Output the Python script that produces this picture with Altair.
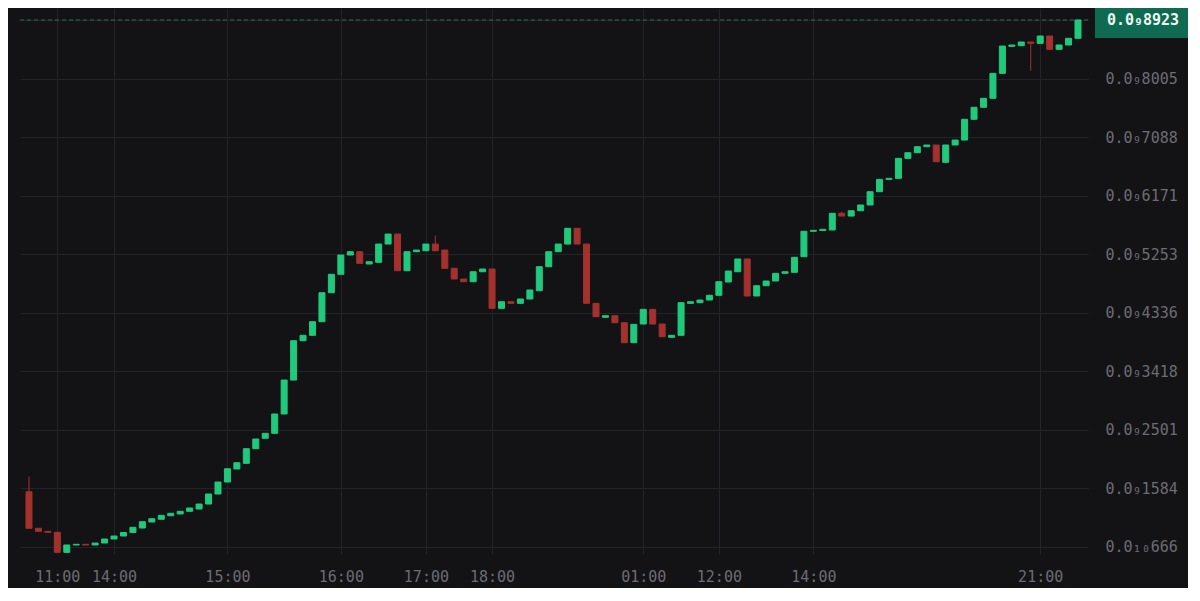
import altair as alt
import pandas as pd

# ---- data (prices in units of 1e-13) ----
opens = [1531, 958, 910, 895, 581, 696, 707, 696, 727, 790,
         837, 892, 962, 1056, 1099, 1155, 1182, 1224, 1260, 1338,
         1495, 1683, 1887, 1976, 2205, 2368, 2446, 2749, 3281, 3897,
         3982, 4195, 4649, 4938, 5240, 5292, 5099, 5126, 5412, 5569,
         4994, 5292, 5307, 5412, 5318, 5032, 4864, 4822, 4978, 5021,
         4405, 4508, 4483, 4551, 4681, 5057, 5292, 5412, 5659, 5412,
         4483, 4264, 4289, 4179, 3866, 4159, 4389, 4159, 3951, 3982,
         4483, 4493, 4535, 4609, 4817, 4978, 5178, 4598, 4759, 4833,
         4953, 4969, 5214, 5612, 5624, 5632, 5894, 5851, 5934, 6024,
         6232, 6426, 6442, 6755, 6843, 6937, 6964, 6693, 6964, 7042,
         7367, 7555, 7696, 8087, 8510, 8520, 8578, 8557, 8672, 8463,
         8531, 8636]
closes = [958, 910, 895, 581, 696, 707, 696, 727, 790, 837,
          892, 973, 1061, 1108, 1161, 1193, 1224, 1276, 1338, 1495,
          1683, 1891, 1985, 2205, 2357, 2446, 2749, 3281, 3897, 3982,
          4195, 4649, 4938, 5240, 5292, 5110, 5135, 5412, 5569, 4994,
          5292, 5318, 5412, 5307, 5032, 4864, 4822, 4978, 5021, 4405,
          4508, 4483, 4551, 4692, 5057, 5292, 5412, 5659, 5412, 4483,
          4273, 4289, 4179, 3866, 4154, 4389, 4159, 3960, 3982, 4493,
          4508, 4535, 4609, 4822, 4989, 5178, 4598, 4759, 4833, 4953,
          4978, 5204, 5612, 5627, 5643, 5894, 5851, 5934, 6024, 6232,
          6426, 6442, 6755, 6843, 6937, 6964, 6702, 6964, 7042, 7367,
          7555, 7696, 8087, 8515, 8531, 8578, 8557, 8672, 8463, 8531,
          8636, 8923]
highs = [1769, 958, 910, 895, 696, 707, 707, 727, 790, 837,
         892, 973, 1061, 1108, 1161, 1193, 1224, 1276, 1338, 1495,
         1683, 1891, 1985, 2205, 2357, 2446, 2749, 3281, 3897, 3982,
         4195, 4649, 4938, 5240, 5292, 5292, 5135, 5412, 5569, 5569,
         5292, 5318, 5412, 5543, 5318, 5032, 4864, 4978, 5021, 5021,
         4508, 4508, 4551, 4692, 5057, 5292, 5412, 5659, 5659, 5412,
         4483, 4289, 4289, 4179, 4154, 4389, 4389, 4159, 3982, 4493,
         4508, 4535, 4609, 4822, 4989, 5178, 5178, 4759, 4833, 4953,
         4978, 5204, 5612, 5627, 5643, 5894, 5919, 5934, 6024, 6232,
         6426, 6442, 6755, 6843, 6937, 6964, 6964, 6964, 7042, 7367,
         7555, 7696, 8087, 8515, 8531, 8578, 8578, 8672, 8672, 8531,
         8636, 8923]
lows = [958, 910, 895, 581, 570, 696, 696, 696, 727, 790,
        837, 892, 962, 1056, 1099, 1155, 1182, 1224, 1260, 1338,
        1495, 1683, 1887, 1976, 2205, 2368, 2446, 2749, 3281, 3897,
        3982, 4195, 4649, 4938, 5240, 5110, 5099, 5126, 5412, 4994,
        4994, 5292, 5307, 5307, 5032, 4864, 4822, 4822, 4978, 4405,
        4405, 4483, 4483, 4551, 4681, 5057, 5292, 5412, 5412, 4483,
        4273, 4264, 4179, 3866, 3866, 4159, 4159, 3960, 3951, 3982,
        4483, 4493, 4535, 4609, 4817, 4978, 4598, 4598, 4759, 4833,
        4953, 4969, 5214, 5612, 5624, 5632, 5851, 5851, 5934, 6024,
        6232, 6426, 6442, 6755, 6843, 6937, 6702, 6693, 6964, 7042,
        7367, 7555, 7696, 8087, 8510, 8520, 8128, 8557, 8463, 8463,
        8531, 8636]

y_tick_values = [666, 1584, 2501, 3418, 4336, 5253, 6171, 7088, 8005, 8923]
y_tick_labels = ["0.0₁₀666", "0.0₉1584", "0.0₉2501", "0.0₉3418", "0.0₉4336",
                 "0.0₉5253", "0.0₉6171", "0.0₉7088", "0.0₉8005", "0.0₉8923"]
x_tick_index = [3, 9, 21, 33, 42, 49, 65, 73, 83, 107]
x_tick_labels = ["11:00", "14:00", "15:00", "16:00", "17:00", "18:00",
                 "01:00", "12:00", "14:00", "21:00"]
last_price = 8923
last_label = "0.0₉8923"

GREEN = "#20c97c"
RED = "#a3312e"
BG = "#131316"
GRID = "#232328"
LABEL = "#6c6c72"
FONT = "DejaVu Sans Mono"

df = pd.DataFrame({
    "i": list(range(len(opens))),
    "open": opens, "high": highs, "low": lows, "close": closes,
})
df["dir"] = ["up" if c >= o else "down" for o, c in zip(opens, closes)]

def js_list(vals):
    return "[" + ",".join(f"'{v}'" if isinstance(v, str) else str(v) for v in vals) + "]"

y_expr = f"{js_list(y_tick_labels)}[indexof({js_list(y_tick_values)}, datum.value)]"
x_expr = f"{js_list(x_tick_labels)}[indexof({js_list(x_tick_index)}, datum.value)]"

x_enc = alt.X("i:Q", title=None,
              scale=alt.Scale(domain=[-0.42, 111.53], nice=False, zero=False),
              axis=alt.Axis(values=x_tick_index, labelExpr=x_expr, grid=True,
                            gridColor=GRID, gridWidth=1, ticks=False, domain=False,
                            labelColor=LABEL, labelFont=FONT, labelFontSize=15,
                            labelBaseline="middle", labelPadding=22,
                            labelFlush=False, labelOverlap=False))
y_scale = alt.Scale(domain=[555, 9111], nice=False, zero=False)
y_axis = alt.Axis(values=y_tick_values, labelExpr=y_expr, orient="right", grid=True,
                  gridColor=GRID, gridWidth=1, ticks=False, domain=False,
                  labelColor=LABEL, labelFont=FONT, labelFontSize=15,
                  labelAlign="left", labelBaseline="middle", labelPadding=17,
                  labelFlush=False, labelOverlap=False)
color_enc = alt.Color("dir:N", scale=alt.Scale(domain=["up", "down"], range=[GREEN, RED]),
                      legend=None)

base = alt.Chart(df)

wicks = base.mark_rule(strokeWidth=1).encode(
    x=x_enc,
    y=alt.Y("low:Q", scale=y_scale, axis=y_axis, title=None),
    y2="high:Q",
    color=color_enc,
)
bodies = base.mark_bar(size=6, strokeWidth=1).encode(
    x=x_enc,
    y=alt.Y("open:Q", scale=y_scale, axis=y_axis, title=None),
    y2="close:Q",
    color=color_enc,
    stroke=alt.Stroke("dir:N", scale=alt.Scale(domain=["up", "down"], range=[GREEN, RED]),
                      legend=None),
)

last_df = pd.DataFrame({"p": [last_price], "t": [last_label]})
price_line = alt.Chart(last_df).mark_rule(strokeDash=[4, 3], color="#2f6a57", strokeWidth=1).encode(
    y=alt.Y("p:Q", scale=y_scale, axis=y_axis, title=None),
)
price_box = alt.Chart(last_df).mark_rect(color="#0e6a50", yOffset=-18, y2Offset=18, clip=False).encode(
    x=alt.value(1075), x2=alt.value(1171),
    y=alt.Y("p:Q", scale=y_scale, axis=y_axis, title=None), y2="p:Q",
)
price_text = alt.Chart(last_df).mark_text(font=FONT, fontSize=15, fontWeight="bold",
                                          color="#eef7f3", align="center", baseline="middle",
                                          clip=False).encode(
    x=alt.value(1123),
    y=alt.Y("p:Q", scale=y_scale, axis=y_axis, title=None),
    text="t:N",
)

chart = alt.layer(price_line, wicks, bodies, price_box, price_text).properties(
    width=1068, height=546,
    background=BG,
    padding={"left": 12, "top": 0, "right": 100, "bottom": 34},
    autosize=alt.AutoSizeParams(type="none"),
).configure_view(stroke=None)

chart.save("out.html", embed_options={"renderer": "svg", "actions": False})
